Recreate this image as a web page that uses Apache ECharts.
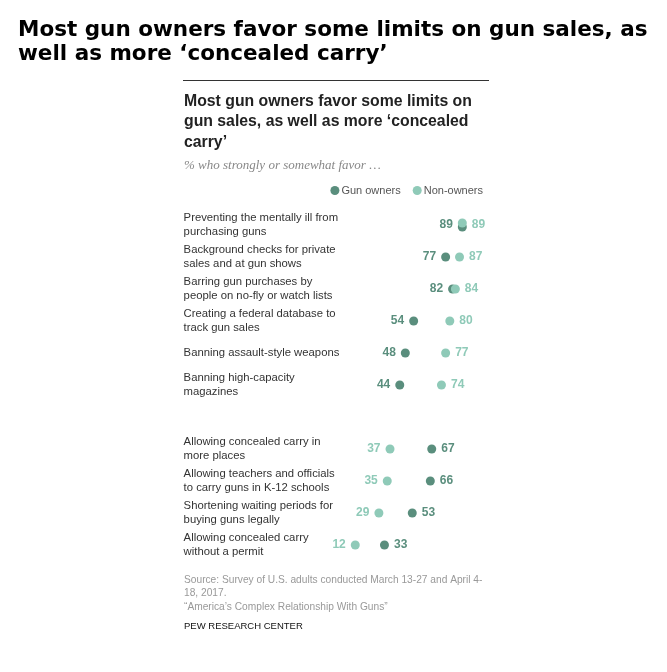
<!DOCTYPE html>
<html>
<head>
<meta charset="utf-8">
<script src="https://cdn.jsdelivr.net/npm/echarts@6/dist/echarts.min.js"></script>
<style>
html,body{margin:0;padding:0;background:#fff;}
#chart{width:667px;height:672px;}
</style>
</head>
<body>
<div id="chart"></div>
<script>
const categories = [
  "Preventing the mentally ill from\npurchasing guns",
  "Background checks for private\nsales and at gun shows",
  "Barring gun purchases by\npeople on no-fly or watch lists",
  "Creating a federal database to\ntrack gun sales",
  "Banning assault-style weapons",
  "Banning high-capacity\nmagazines",
  "",
  "Allowing concealed carry in\nmore places",
  "Allowing teachers and officials\nto carry guns in K-12 schools",
  "Shortening waiting periods for\nbuying guns legally",
  "Allowing concealed carry\nwithout a permit"
];
const gunOwners = [89, 77, 82, 54, 48, 44, null, 67, 66, 53, 33];
const nonOwners = [89, 87, 84, 80, 77, 74, null, 37, 35, 29, 12];

const DARK = '#5a8e7d';
const LIGHT = '#8fcab8';
const FONT = '"Liberation Sans", Arial, sans-serif';

function buildData(vals, other, isGun) {
  const out = [];
  vals.forEach((v, i) => {
    if (v == null) return;
    const o = other[i];
    let left;
    if (v === o) left = isGun; else left = v < o;
    const item = {
      value: [v, i],
      label: { position: left ? 'left' : 'right' }
    };
    if (v === o) {
      const d = isGun ? 2 : -2;
      item.symbolOffset = [0, d];
      item.label.offset = [0, -d];
    }
    out.push(item);
  });
  return out;
}

const chart = echarts.init(document.getElementById('chart'), null, {renderer: 'canvas'});
chart.setOption({
  backgroundColor: '#fff',
  animation: false,
  title: [
    {
      text: 'Most gun owners favor some limits on gun sales, as\nwell as more ‘concealed carry’',
      left: 18, top: 19, padding: 0,
      textStyle: { fontFamily: '"DejaVu Sans", sans-serif', fontSize: 21.5, fontWeight: 'bold', color: '#000', lineHeight: 23.5 }
    },
    {
      text: 'Most gun owners favor some limits on\ngun sales, as well as more ‘concealed\ncarry’',
      left: 184, top: 91, padding: 0,
      textStyle: { fontFamily: FONT, fontSize: 15.8, fontWeight: 'bold', color: '#222', lineHeight: 20.5 }
    },
    {
      text: '% who strongly or somewhat favor …',
      left: 184, top: 159, padding: 0,
      textStyle: { fontFamily: '"Liberation Serif", serif', fontSize: 13, fontStyle: 'italic', fontWeight: 'normal', color: '#888' }
    },
    {
      text: 'Source: Survey of U.S. adults conducted March 13-27 and April 4-\n18, 2017.\n“America’s Complex Relationship With Guns”',
      left: 184, top: 573, padding: 0,
      textStyle: { fontFamily: FONT, fontSize: 10.2, fontWeight: 'normal', color: '#999', lineHeight: 13.5 }
    },
    {
      text: 'PEW RESEARCH CENTER',
      left: 184, top: 621, padding: 0,
      textStyle: { fontFamily: FONT, fontSize: 9.5, fontWeight: 'normal', color: '#111' }
    }
  ],
  graphic: [
    { type: 'line', shape: { x1: 183, y1: 80.5, x2: 489, y2: 80.5 }, style: { stroke: '#333', lineWidth: 1 } }
  ],
  legend: {
    right: 179, top: 180,
    itemWidth: 9, itemHeight: 9, itemGap: 12,
    icon: 'circle',
    textStyle: { fontFamily: FONT, fontSize: 11, color: '#555', padding: [0, 0, 0, -3] },
    data: ['Gun owners', 'Non-owners']
  },
  grid: { left: 338.6, right: 189.4, top: 209, bottom: 111, containLabel: false },
  xAxis: { type: 'value', min: 0, max: 100, show: false },
  yAxis: {
    type: 'category', data: categories, inverse: true,
    axisLine: { show: false }, axisTick: { show: false }, splitLine: { show: false },
    axisLabel: {
      align: 'left', margin: 155,
      fontFamily: FONT, fontSize: 11.3, lineHeight: 14, color: '#333'
    }
  },
  series: [
    {
      name: 'Gun owners', type: 'scatter', symbol: 'circle', symbolSize: 9,
      itemStyle: { color: DARK, opacity: 1 },
      label: { show: true, distance: 5, formatter: p => p.value[0], color: DARK, fontFamily: FONT, fontSize: 12, fontWeight: 'bold' },
      data: buildData(gunOwners, nonOwners, true), z: 2
    },
    {
      name: 'Non-owners', type: 'scatter', symbol: 'circle', symbolSize: 9,
      itemStyle: { color: LIGHT, opacity: 1 },
      label: { show: true, distance: 5, formatter: p => p.value[0], color: LIGHT, fontFamily: FONT, fontSize: 12, fontWeight: 'bold' },
      data: buildData(nonOwners, gunOwners, false), z: 3
    }
  ]
});
</script>
</body>
</html>
